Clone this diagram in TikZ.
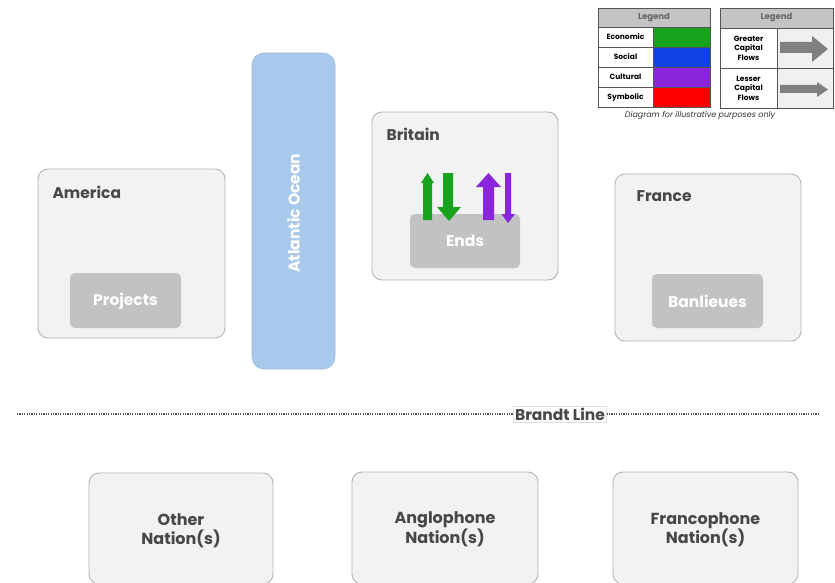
\documentclass[tikz,border=0pt]{standalone}
\usepackage{fontspec}
\setmainfont{Poppins}
\usetikzlibrary{calc}
\definecolor{boxfill}{HTML}{F2F2F2}
\definecolor{boxline}{HTML}{B4B4B4}
\definecolor{innerfill}{HTML}{C2C2C2}
\definecolor{labtext}{HTML}{474747}
\definecolor{ocean}{HTML}{A8C9EC}
\definecolor{oceanline}{HTML}{9DB9DA}
\definecolor{econ}{HTML}{17A31E}
\definecolor{soc}{HTML}{1141E3}
\definecolor{cult}{HTML}{8A25DC}
\definecolor{symb}{HTML}{FF0000}
\definecolor{arrowgray}{HTML}{808080}
\definecolor{leghead}{HTML}{C4C4C4}
\definecolor{legline}{HTML}{555555}
\tikzset{
  region/.style={draw=boxline, line width=0.9pt, fill=boxfill, rounded corners=10pt},
  inner/.style={fill=innerfill, rounded corners=5pt},
  reglabel/.style={anchor=west, text=labtext, font=\bfseries\fontsize{15.5}{17}\selectfont},
  innerlabel/.style={text=white, font=\bfseries\fontsize{15.5}{17}\selectfont},
  nationlabel/.style={text=labtext, align=center, font=\bfseries\fontsize{16}{19}\selectfont},
  legcell/.style={draw=legline, line width=0.8pt},
  legtext/.style={font=\bfseries\fontsize{7.5}{8}\selectfont, text=black, align=center},
  leghd/.style={font=\bfseries\fontsize{8.5}{9}\selectfont, text=black!60},
}
\begin{document}
\begin{tikzpicture}[x=1pt,y=-1pt]
\useasboundingbox (0,0) rectangle (835,583);
\fill[white] (0,0) rectangle (835,583);

% America
\draw[region] (38,169) rectangle (225,338);
\node[reglabel] (america) at (49,192) {America};
\fill[inner] (70,273) rectangle (181,328);
\node[innerlabel] (projects) at (125.5,301) {Projects};

% Atlantic Ocean
\draw[draw=oceanline, line width=0.6pt, fill=ocean, rounded corners=12pt] (252,53) rectangle (335,369);
\node[innerlabel, rotate=90] (ocean) at (293.5,213) {Atlantic Ocean};

% Britain
\draw[region] (372,112) rectangle (558,280);
\node[reglabel] (britain) at (383,134) {Britain};
\fill[inner] (410,214) rectangle (520,268);
\node[innerlabel] (ends) at (465,241) {Ends};
% arrows
\fill[econ] (423,220) -- (423,183) -- (421,183) -- (427.5,173) -- (434,183) -- (432,183) -- (432,220) -- cycle;
\fill[econ] (443,173) -- (453,173) -- (453,207) -- (461,207) -- (449,221) -- (437,207) -- (443,207) -- cycle;
\fill[cult] (483,220) -- (483,187) -- (476,187) -- (488.5,173) -- (501,187) -- (494,187) -- (494,220) -- cycle;
\fill[cult] (505,173) -- (511,173) -- (511,214) -- (515,214) -- (508,223) -- (501.5,214) -- (505,214) -- cycle;

% France
\draw[region] (615,174) rectangle (801,341);
\node[reglabel] (france) at (633,196) {France};
\fill[inner] (652,274) rectangle (763,328);
\node[innerlabel] (banlieues) at (707.5,301) {Banlieues};

% Brandt line
\coordinate (bl) at (17,414);
\coordinate (br) at (818,414);
\node[draw=black!12, fill=white, inner sep=1.5pt, text=labtext, font=\bfseries\fontsize{15.5}{17}\selectfont] (brandt) at (560,414) {Brandt Line};
\draw[legline, line width=1.8pt, dash pattern=on 1.2pt off 1.2pt] (bl) -- (brandt.west);
\draw[legline, line width=1.8pt, dash pattern=on 1.2pt off 1.2pt] (brandt.east) -- (br);

% Nations
\draw[region] (89,473) rectangle (273,584);
\node[nationlabel] (other) at (181,530.5) {Other\\Nation(s)};
\draw[region] (352,472) rectangle (538,584);
\node[nationlabel] (anglo) at (445,529.5) {Anglophone\\Nation(s)};
\draw[region] (613,472) rectangle (798,584);
\node[nationlabel] (franco) at (705.5,529.5) {Francophone\\Nation(s)};

% Legend 1
\fill[leghead] (598,8) rectangle (710,27);
\fill[white] (598,27) rectangle (653,107);
\fill[econ] (653,27) rectangle (710,47);
\fill[soc] (653,47) rectangle (710,67);
\fill[cult] (653,67) rectangle (710,87);
\fill[symb] (653,87) rectangle (710,107);
\draw[legcell] (598,8) rectangle (710,107);
\foreach \yy in {27,47,67,87} \draw[legcell] (598,\yy) -- (710,\yy);
\draw[legcell] (653,27) -- (653,107);
\node[leghd] (lh1) at (654,17.5) {Legend};
\node[legtext] (le) at (625.5,37) {Economic};
\node[legtext] (ls) at (625.5,57) {Social};
\node[legtext] (lc) at (625.5,77) {Cultural};
\node[legtext] (lsy) at (625.5,97) {Symbolic};

% Legend 2
\fill[leghead] (720,8) rectangle (833,28);
\fill[white] (720,28) rectangle (777,108);
\fill[black!6] (777,28) rectangle (833,108);
\draw[legcell] (720,8) rectangle (833,108);
\draw[legcell] (720,28) -- (833,28);
\draw[legcell] (720,68) -- (833,68);
\draw[legcell] (777,28) -- (777,108);
\node[leghd] (lh2) at (776.5,18) {Legend};
\node[legtext, font=\bfseries\fontsize{7.5}{9.5}\selectfont] (lg) at (748.5,48) {Greater\\Capital\\Flows};
\node[legtext, font=\bfseries\fontsize{7.5}{9.5}\selectfont] (ll) at (748.5,88) {Lesser\\Capital\\Flows};
\fill[arrowgray] (780,42) -- (812,42) -- (812,36) -- (828,49) -- (812,62) -- (812,53) -- (780,53) -- cycle;
\fill[arrowgray] (780,85) -- (817,85) -- (817,82) -- (828,89.5) -- (817,97) -- (817,93) -- (780,93) -- cycle;

\node[font=\itshape\fontsize{8}{9}\selectfont, text=black!80] (cap) at (700,116) {Diagram for illustrative purposes only};
\end{tikzpicture}
\end{document}
